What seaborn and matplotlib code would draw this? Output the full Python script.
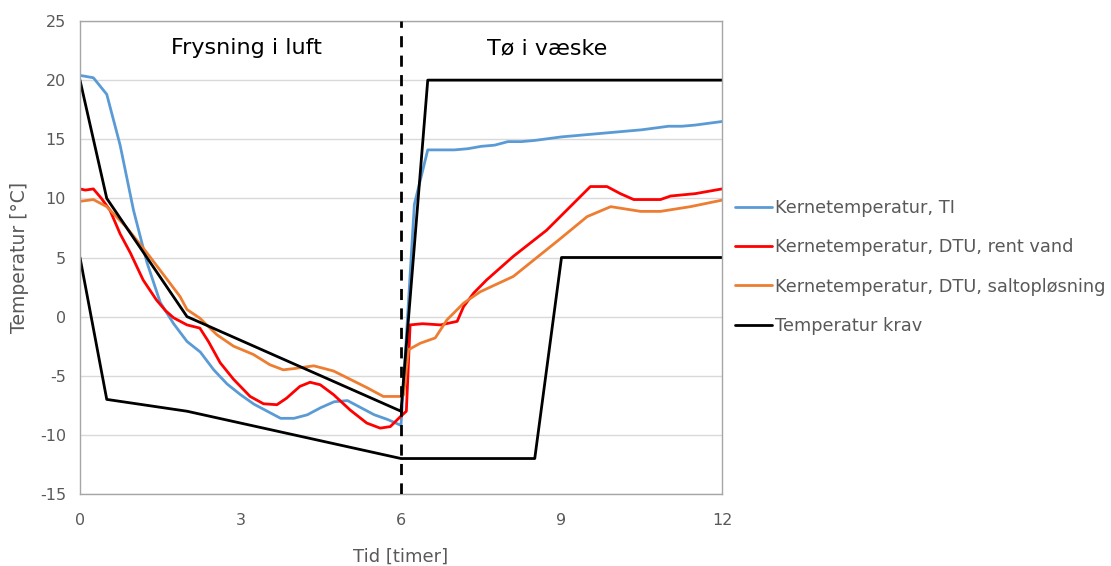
import matplotlib
matplotlib.use("Agg")
import matplotlib.pyplot as plt
import seaborn as sns
import pandas as pd

# --- data ---
t_ti = [0, 0.25, 0.5, 0.75, 1.0, 1.25, 1.5, 1.75, 2.0, 2.25, 2.5, 2.75, 3.0, 3.25, 3.5, 3.75, 4.0,
        4.25, 4.5, 4.75, 5.0, 5.25, 5.5, 5.75, 6.0, 6.25, 6.5, 7.0, 7.25, 7.5, 7.75, 8.0, 8.25, 8.5,
        9.0, 9.5, 10.0, 10.5, 11.0, 11.25, 11.5, 12.0]
v_ti = [20.4, 20.2, 18.8, 14.5, 9.0, 4.6, 1.2, -0.6, -2.1, -3.0, -4.5, -5.7, -6.6, -7.4, -8.0, -8.6, -8.6,
        -8.3, -7.7, -7.2, -7.1, -7.7, -8.3, -8.7, -9.2, 9.5, 14.1, 14.1, 14.2, 14.4, 14.5, 14.8, 14.8, 14.9,
        15.2, 15.4, 15.6, 15.8, 16.1, 16.1, 16.2, 16.5]

t_red = [0, 0.1, 0.25, 0.4, 0.56, 0.75, 0.94, 1.18, 1.43, 1.6, 1.75, 2.0, 2.24, 2.4, 2.62, 2.87, 3.18,
         3.43, 3.68, 3.86, 4.11, 4.3, 4.49, 4.74, 5.05, 5.36, 5.61, 5.8, 5.99, 6.1, 6.17, 6.4, 6.74,
         7.05, 7.17, 7.36, 7.6, 8.1, 8.72, 9.23, 9.54, 9.85, 10.1, 10.35, 10.85, 11.04, 11.5, 12.0]
v_red = [10.8, 10.7, 10.8, 10.0, 9.0, 7.0, 5.4, 3.1, 1.4, 0.5, -0.1, -0.7, -0.97, -2.1, -3.9, -5.3, -6.75,
         -7.37, -7.45, -6.9, -5.9, -5.55, -5.76, -6.6, -7.9, -9.0, -9.43, -9.3, -8.45, -8.0, -0.7, -0.6, -0.7,
         -0.4, 0.85, 2.0, 3.1, 5.1, 7.3, 9.6, 11.0, 11.0, 10.4, 9.9, 9.9, 10.2, 10.4, 10.8]

t_or = [0, 0.25, 0.5, 0.86, 1.25, 1.87, 2.0, 2.24, 2.56, 2.87, 3.24, 3.55, 3.8, 3.99, 4.37, 4.74,
        5.05, 5.36, 5.67, 5.99, 6.05, 6.14, 6.36, 6.64, 6.86, 7.17, 7.48, 8.1, 8.98, 9.48, 9.92,
        10.48, 10.85, 11.41, 12.0]
v_or = [9.75, 9.9, 9.3, 7.6, 5.4, 1.7, 0.6, -0.13, -1.54, -2.5, -3.2, -4.07, -4.5, -4.4, -4.16, -4.6,
        -5.3, -6.0, -6.75, -6.75, -6.6, -2.8, -2.25, -1.8, -0.27, 1.14, 2.1, 3.4, 6.6, 8.46, 9.3,
        8.9, 8.9, 9.3, 9.85]

t_krav_hi = [0, 0.5, 2, 6, 6.5, 12]
v_krav_hi = [20, 10, 0, -8, 20, 20]
t_krav_lo = [0, 0.5, 2, 6, 8.5, 9, 12]
v_krav_lo = [5, -7, -8, -12, -12, 5, 5]

labels = ["Kernetemperatur, TI", "Kernetemperatur, DTU, rent vand",
          "Kernetemperatur, DTU, saltopløsning", "Temperatur krav"]
colors = ["#5B9BD5", "#FF0000", "#ED7D31", "#000000"]

sns.set_style("white")
plt.rcParams['font.family'] = ['DejaVu Sans']
plt.rcParams['axes.unicode_minus'] = False

fig = plt.figure(figsize=(11.11, 5.66), dpi=100)
ax = fig.add_axes([80 / 1111, 1 - 494 / 566, (722 - 80) / 1111, (494 - 21) / 566])

lw = 2.0
df_ti = pd.DataFrame({"t": t_ti, "v": v_ti})
df_red = pd.DataFrame({"t": t_red, "v": v_red})
df_or = pd.DataFrame({"t": t_or, "v": v_or})
df_hi = pd.DataFrame({"t": t_krav_hi, "v": v_krav_hi})
df_lo = pd.DataFrame({"t": t_krav_lo, "v": v_krav_lo})

sns.lineplot(data=df_ti, x="t", y="v", ax=ax, color=colors[0], lw=lw, sort=False, estimator=None, label=labels[0])
sns.lineplot(data=df_red, x="t", y="v", ax=ax, color=colors[1], lw=lw, sort=False, estimator=None, label=labels[1])
sns.lineplot(data=df_or, x="t", y="v", ax=ax, color=colors[2], lw=lw, sort=False, estimator=None, label=labels[2])
sns.lineplot(data=df_hi, x="t", y="v", ax=ax, color=colors[3], lw=lw, sort=False, estimator=None, label=labels[3])
sns.lineplot(data=df_lo, x="t", y="v", ax=ax, color=colors[3], lw=lw, sort=False, estimator=None)

ax.axvline(6, color="black", lw=2, ls=(0, (4, 3)), zorder=5)

ax.set_xlim(0, 12)
ax.set_ylim(-15, 25)
ax.set_xticks([0, 3, 6, 9, 12])
ax.set_yticks(range(-15, 30, 5))
ax.yaxis.grid(True, color="#D9D9D9", lw=1)
ax.xaxis.grid(False)
ax.set_axisbelow(True)
for s in ax.spines.values():
    s.set_color("#A6A6A6")
    s.set_linewidth(1)
ax.tick_params(axis="both", length=0, labelsize=11.5, labelcolor="#595959")
ax.tick_params(axis="x", pad=14)
ax.tick_params(axis="y", pad=10)

ax.set_xlabel("Tid [timer]", fontsize=13, color="#595959", labelpad=14)
ax.set_ylabel("Temperatur [°C]", fontsize=13.5, color="#595959", labelpad=8)

ax.text(3.12, 22.7, "Frysning i luft", ha="center", va="center", fontsize=16, color="black")
ax.text(8.73, 22.7, "Tø i væske", ha="center", va="center", fontsize=16, color="black")

handles, labs = ax.get_legend_handles_labels()
if ax.get_legend():
    ax.get_legend().remove()
leg = fig.legend(handles, labs, loc="center left", bbox_to_anchor=(735 / 1111, 1 - 267 / 566),
                 frameon=False, fontsize=12.8, labelspacing=1.2, handlelength=2.1,
                 handletextpad=0.15, borderaxespad=0, borderpad=0)
for t in leg.get_texts():
    t.set_color("#595959")

fig.savefig("out.png", dpi=100)
